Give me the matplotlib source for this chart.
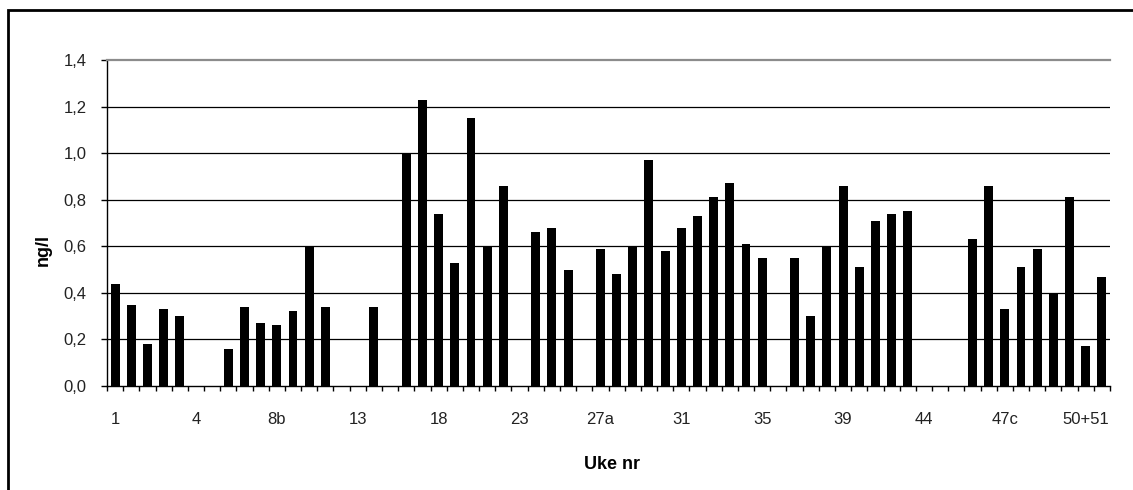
import numpy as np
import matplotlib
matplotlib.use("Agg")
import matplotlib.pyplot as plt
from matplotlib.patches import Rectangle

plt.rcParams['font.family'] = ['Liberation Sans', 'DejaVu Sans']

# uke-kategorier (bare hver 5. vises som etikett i originalen)
uke_labels = ["1", "4", "8b", "13", "18", "23", "27a", "31", "35", "39", "44", "47c", "50+51"]
n_uker = 62
label_step = 5

# ng/l per uke, None = ingen prove
verdier = [
    0.44, 0.35, 0.18, 0.33, 0.30, None, None, 0.16, 0.34, 0.27,
    0.26, 0.32, 0.60, 0.34, None, None, 0.34, None, 1.00, 1.23,
    0.74, 0.53, 1.15, 0.60, 0.86, None, 0.66, 0.68, 0.50, None,
    0.59, 0.48, 0.60, 0.97, 0.58, 0.68, 0.73, 0.81, 0.87, 0.61,
    0.55, None, 0.55, 0.30, 0.60, 0.86, 0.51, 0.71, 0.74, 0.75,
    None, None, None, 0.63, 0.86, 0.33, 0.51, 0.59, 0.40, 0.81,
    0.17, 0.47,
]
y_ticks = [0.0, 0.2, 0.4, 0.6, 0.8, 1.0, 1.2, 1.4]
y_ticklabels = ["0,0", "0,2", "0,4", "0,6", "0,8", "1,0", "1,2", "1,4"]

fig = plt.figure(figsize=(11.33, 4.9), dpi=100)

# ytre ramme (bare topp og venstre synlig i bildet)
fig.patches.append(Rectangle((7.5 / 1133, -0.1), 1.2, 0.1 + 1 - 10.5 / 490,
                             transform=fig.transFigure, fill=False,
                             edgecolor='black', linewidth=2))

ax = fig.add_axes([107 / 1133, 1 - 386 / 490, 1003 / 1133, 326 / 490])

x = np.arange(n_uker)
v = np.array([np.nan if a is None else a for a in verdier])
mask = ~np.isnan(v)
ax.bar(x[mask], v[mask], width=0.55, color='black', zorder=3)

ax.set_xlim(-0.5, n_uker - 0.5)
ax.set_ylim(0, 1.4)

ax.set_yticks(y_ticks)
ax.set_yticklabels(y_ticklabels, fontsize=12, color='#222222')
for yy in y_ticks[1:-1]:
    ax.axhline(yy, color='black', linewidth=0.9, zorder=1)

# ticks mellom kategoriene, etiketter paa hver 5.
ax.set_xticks(np.arange(-0.5, n_uker, 1))
ax.set_xticklabels([])
ax.set_xticks(np.arange(0, n_uker, label_step), minor=True)
ax.set_xticklabels(uke_labels, minor=True, fontsize=12, color='#222222')
ax.tick_params(axis='x', which='major', direction='out', length=3.6, width=1)
ax.tick_params(axis='x', which='minor', length=0, pad=19)
ax.tick_params(axis='y', direction='out', length=4.3, width=1, pad=10.5)

ax.spines['right'].set_visible(False)
ax.spines['top'].set_color('#8c8c8c')
ax.spines['top'].set_linewidth(1.6)
ax.spines['left'].set_linewidth(1)
ax.spines['bottom'].set_linewidth(1)

ax.set_ylabel("ng/l", fontsize=13, fontweight='bold')
ax.yaxis.set_label_coords(-0.055, 0.417)
ax.set_xlabel("Uke nr", fontsize=13, fontweight='bold')
ax.xaxis.set_label_coords(0.5035, -0.215)

fig.savefig("out.png", dpi=100)
